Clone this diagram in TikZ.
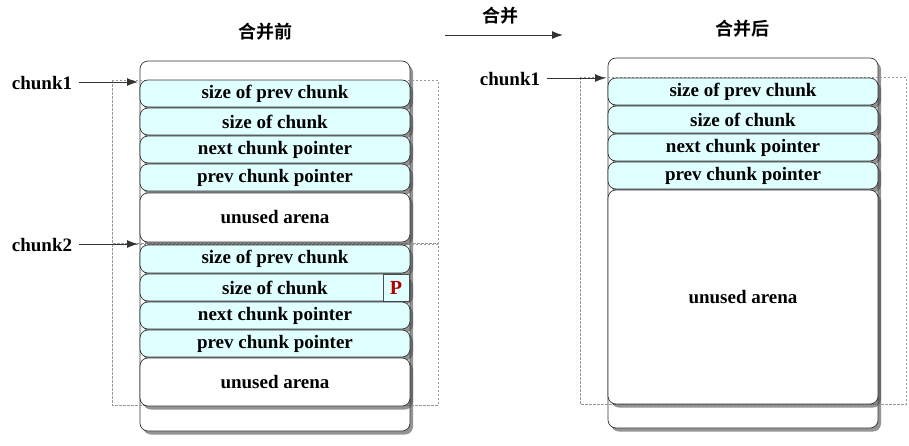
\documentclass[tikz,border=0pt]{standalone}
\usepackage{fontspec}
\setmainfont{Liberation Serif}
\newfontfamily\cjk{Noto Sans CJK SC}[BoldFont={Noto Sans CJK SC Bold}]
\usetikzlibrary{shadows,arrows.meta}
\definecolor{cellfill}{HTML}{E0FFFF}
\definecolor{pred}{HTML}{B00000}
\tikzset{
  x=1pt,y=-1pt,
  boxbase/.style={draw=black!80,line width=0.7pt,rounded corners=8pt,minimum width=270pt,inner sep=0pt,
     drop shadow={shadow xshift=3pt,shadow yshift=-3.5pt,opacity=0.6,fill=black!70}},
  outerbox/.style={boxbase,fill=white},
  cell/.style={boxbase,fill=cellfill,font=\fontsize{19}{20}\selectfont\bfseries},
  arena/.style={boxbase,fill=white,font=\fontsize{19}{20}\selectfont\bfseries},
  pbox/.style={draw=black!70,line width=0.6pt,fill=cellfill,minimum width=26pt,minimum height=27pt,inner sep=0pt,
     font=\fontsize{20}{20}\selectfont\bfseries,text=pred},
  dashbox/.style={draw=black!40,line width=0.8pt,dash pattern=on 2.5pt off 1.5pt},
  lbl/.style={font=\fontsize{19}{20}\selectfont\bfseries,inner sep=1pt},
  title/.style={font=\cjk\bfseries\fontsize{18}{20}\selectfont,inner sep=1pt},
  ptr/.style={draw=black!80,line width=1pt,-{Latex[length=11pt,width=8pt]}},
}
\begin{document}
\begin{tikzpicture}
\useasboundingbox (0,0) rectangle (909,445);
% ---------- left: before merge ----------
\node[outerbox,minimum height=370pt] (Lout) at (275,246) {};
\draw[dashbox] (112,80) rectangle (438,243);
\draw[dashbox] (112,244) rectangle (438,405);
\node[cell,minimum height=27pt] (a1) at (275,93.5) {size of prev chunk};
\node[cell,minimum height=27pt] (a2) at (275,121.5) {size of chunk};
\node[cell,minimum height=27pt] (a3) at (275,149.5) {next chunk pointer};
\node[cell,minimum height=27pt] (a4) at (275,177.5) {prev chunk pointer};
\node[arena,minimum height=49pt] (a5) at (275,217.5) {unused arena};
\node[cell,minimum height=28pt] (b1) at (275,259) {size of prev chunk};
\node[cell,minimum height=27pt] (b2) at (275,287.5) {size of chunk};
\node[pbox] (p) at (396,287.5) {P};
\node[cell,minimum height=27pt] (b3) at (275,315.5) {next chunk pointer};
\node[cell,minimum height=27pt] (b4) at (275,343.5) {prev chunk pointer};
\node[arena,minimum height=48pt] (b5) at (275,382) {unused arena};
\node[title] (tbefore) at (265,32) {合并前};
\node[lbl] (l1) at (42,83) {chunk1};
\node[lbl] (l2) at (42,245) {chunk2};
\coordinate (t1) at (138,82);
\coordinate (t2) at (138,244);
\draw[ptr] (l1.east) ++(6,-1) -- (t1);
\draw[ptr] (l2.east) ++(6,-1) -- (t2);
% ---------- merge arrow ----------
\node[title] (tmerge) at (500,16) {合并};
\coordinate (m0) at (445,35);
\coordinate (m1) at (563,35);
\draw[ptr] (m0) -- (m1);
% ---------- right: after merge ----------
\node[outerbox,minimum height=370pt] (Rout) at (743,243) {};
\draw[dashbox] (580,77) rectangle (906,404);
\node[cell,minimum height=27pt] (c1) at (743,91.5) {size of prev chunk};
\node[cell,minimum height=27pt] (c2) at (743,119.5) {size of chunk};
\node[cell,minimum height=27pt] (c3) at (743,147.5) {next chunk pointer};
\node[cell,minimum height=27pt] (c4) at (743,175.5) {prev chunk pointer};
\node[arena,minimum height=214pt] (c5) at (743,297) {unused arena};
\node[title] (tafter) at (742,29) {合并后};
\node[lbl] (l3) at (510,79) {chunk1};
\coordinate (t3) at (606,78);
\draw[ptr] (l3.east) ++(6,-1) -- (t3);
\end{tikzpicture}
\end{document}
